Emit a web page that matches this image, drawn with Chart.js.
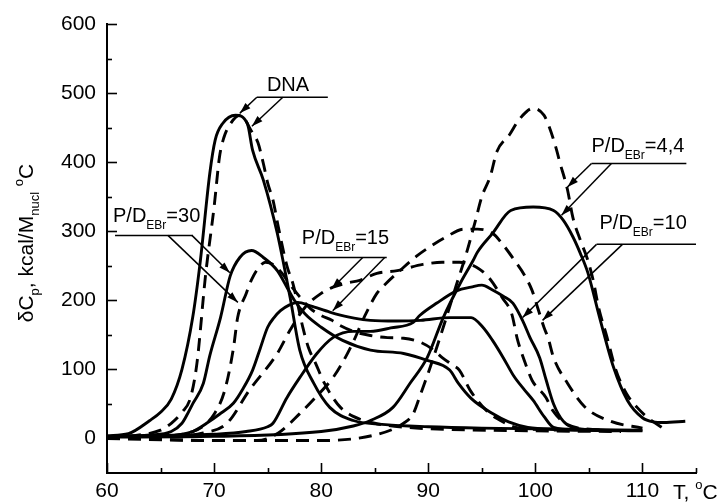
<!DOCTYPE html>
<html>
<head>
<meta charset="utf-8">
<title>Melting curves of DNA–EBr complexes</title>
<script src="https://cdn.jsdelivr.net/npm/chart.js@4.4.1/dist/chart.umd.min.js"></script>
<style>
  html, body { margin: 0; padding: 0; background: #fff; }
  #wrap { width: 723px; height: 504px; }
</style>
</head>
<body>
<div id="wrap"><canvas id="c" width="723" height="504"></canvas></div>
<script>
// Axis ticks
const xTicks = [60, 70, 80, 90, 100, 110];
const yTicks = [0, 100, 200, 300, 400, 500, 600];
const xMinorTicks = [65, 75, 85, 95, 105, 115];
const yMinorTicks = [50, 150, 250, 350, 450, 550];

// Excess heat capacity, kcal/(M nucl · °C), versus temperature T, °C
// Free DNA
const tDnaSolid  = [60, 62, 64, 65, 66, 67, 68, 68.7, 69.6, 70.1, 70.8, 72, 73.1, 73.6, 74.6, 75.9, 77.1, 78, 79.3, 80.8, 83, 86, 90, 95, 100, 105, 110];
const cpDnaSolid = [4, 7, 26, 38, 57, 100, 175, 255, 384, 432, 456, 468, 456, 417, 374, 297, 204, 128, 80, 45, 26, 20, 17, 15, 14, 13, 12];
const tDnaDashed  = [60, 63, 65, 66, 67, 67.8, 68.4, 69.2, 70, 70.5, 70.9, 71.5, 72.4, 73.6, 74.1, 74.6, 75, 75.5, 76, 76.8, 77.4, 78.3, 78.8, 79.5, 80.3, 81.1, 81.8, 83, 85, 88, 92, 100, 108];
const cpDnaDashed = [2, 5, 12, 22, 38, 59, 109, 236, 335, 407, 435, 455, 468, 442, 428, 398, 370, 345, 306, 250, 222, 160, 132, 108, 80, 59, 45, 32, 22, 16, 13, 11, 10];

// P/D = 30
const t30Solid  = [60, 64, 66, 67, 67.5, 68, 69, 69.6, 70.6, 71.5, 72.4, 73.5, 74.6, 75.9, 76.8, 77.5, 78.5, 80, 82, 84.6, 87.7, 89.9, 92, 92.8, 94, 96, 97.5, 99.3, 102, 106];
const cp30Solid = [3, 5, 10, 22, 35, 50, 80, 120, 175, 235, 262, 272, 262, 243, 219, 200, 180, 161, 142, 128, 123, 113, 99, 80, 58, 36, 24, 16, 13, 12];
const t30Dashed  = [60, 66, 68, 69, 70, 71, 71.8, 72.2, 73, 73.5, 74.2, 74.8, 75.5, 76.3, 77, 78, 79, 80, 81, 81.7, 83, 84.6, 86.2, 87.7, 89.3, 90.5, 91.3, 92.3, 92.9, 93.9, 95.4, 96.5, 98.5, 103];
const cp30Dashed = [2, 4, 10, 18, 35, 70, 130, 175, 210, 230, 248, 255, 252, 240, 225, 205, 188, 178, 171, 164, 155, 149, 146, 145, 139, 128, 117, 106, 99, 70, 41, 28, 15, 12];

// P/D = 15
const t15Solid  = [60, 65, 68, 69.3, 70.5, 71.8, 72.7, 73.6, 74.3, 75, 75.6, 76.2, 77, 77.8, 79, 80.8, 82.5, 84.6, 87, 89.3, 92, 94, 95.1, 96, 97, 98, 99, 99.8, 100.8, 101.7, 104, 108];
const cp15Solid = [3, 4, 10, 22, 35, 51, 72, 99, 130, 161, 175, 185, 193, 197, 192, 183, 176, 171, 170, 171, 175, 175, 161, 142, 117, 90, 70, 55, 32, 16, 12, 11];
const t15Dashed  = [60, 66, 69, 71.2, 73.3, 75.9, 77.1, 78.5, 80, 81.1, 82.4, 83.6, 85.2, 87.1, 89.5, 91.3, 92.9, 94.5, 95.7, 96.9, 97.8, 98.3, 99.2, 99.7, 101, 101.6, 103, 106];
const cp15Dashed = [2, 3, 8, 22, 70, 123, 157, 190, 210, 219, 225, 229, 239, 243, 252, 255, 255, 248, 232, 204, 180, 145, 103, 84, 59, 41, 20, 12];

// P/D = 10
const t10Solid  = [60, 65, 70, 73, 75, 75.5, 76.8, 78, 79.6, 81.1, 83, 84.6, 86.5, 88.6, 89.2, 90.8, 92.7, 94, 95, 96, 97, 97.9, 98.8, 99.5, 100.4, 101, 101.7, 102.6, 103.5, 106, 110];
const cp10Solid = [3, 4, 6, 10, 17, 22, 59, 88, 123, 146, 155, 155, 160, 168, 178, 196, 214, 219, 222, 215, 206, 196, 171, 146, 117, 85, 50, 25, 16, 12, 11];
const t10Dashed  = [60, 70, 74, 76, 78, 79.5, 81.1, 82, 83, 84, 85.2, 86.1, 87.5, 89, 90.1, 91.6, 93.3, 94.6, 96, 97, 98, 99, 99.7, 100.2, 100.8, 101.2, 101.7, 103, 104.6, 107, 110];
const cp10Dashed = [2, -3, -3, 8, 36, 60, 88, 110, 140, 175, 210, 225, 245, 265, 277, 291, 303, 303, 297, 280, 259, 236, 214, 190, 161, 145, 117, 80, 46, 25, 15];

// P/D = 4,4
const t44Solid  = [60, 70, 80, 83, 84.6, 86.7, 88.3, 89.9, 91.4, 93, 94.2, 94.6, 96, 97.7, 99.8, 101.7, 102.6, 103.5, 104.2, 104.9, 106, 107.3, 108.6, 110, 111, 112, 114];
const cp44Solid = [2, 3, 10, 18, 26, 45, 80, 117, 175, 225, 258, 270, 297, 330, 335, 330, 316, 292, 268, 240, 175, 103, 55, 30, 24, 23, 25];
const t44Dashed  = [60, 70, 80, 85, 87.7, 88.6, 89.3, 90, 91.4, 92.6, 93.6, 94.4, 95, 95.8, 96.4, 97.6, 98.5, 99.8, 100.8, 101.3, 101.9, 102.3, 103, 103.5, 104.2, 104.9, 105.4, 105.9, 106.7, 107.5, 108.5, 109.5, 110.5, 112];
const cp44Dashed = [0, -3, -3, 5, 22, 36, 65, 95, 161, 221, 270, 315, 350, 380, 415, 440, 462, 478, 468, 451, 422, 399, 360, 320, 287, 258, 229, 190, 146, 100, 65, 45, 30, 14];

const curves = [
  [tDnaSolid, cpDnaSolid, false], [tDnaDashed, cpDnaDashed, true],
  [t30Solid, cp30Solid, false],   [t30Dashed, cp30Dashed, true],
  [t15Solid, cp15Solid, false],   [t15Dashed, cp15Dashed, true],
  [t10Solid, cp10Solid, false],   [t10Dashed, cp10Dashed, true],
  [t44Solid, cp44Solid, false],   [t44Dashed, cp44Dashed, true]
];

// Callout labels: text anchor, underline bar and arrows, all in (T, Cp) units
const callouts = [
  { parts: [['DNA', 20, 0]], at: [74.93, 503],
    bar: [73.99, 80.62, 494], arrows: [[73.99, 494, 72.41, 471], [76.42, 494, 73.53, 452]] },
  { parts: [['P/D', 20, 0], ['EBr', 12, 7], ['=30', 20, 0]], at: [60.56, 313],
    bar: [60.75, 68.02, 294], arrows: [[65.69, 294, 72.22, 197], [67.93, 294, 71.47, 240]] },
  { parts: [['P/D', 20, 0], ['EBr', 12, 7], ['=15', 20, 0]], at: [78.19, 282],
    bar: [78.0, 86.12, 262], arrows: [[83.88, 262, 80.99, 217], [85.93, 262, 81.08, 185]] },
  { parts: [['P/D', 20, 0], ['EBr', 12, 7], ['=4,4', 20, 0]], at: [105.24, 414],
    bar: [105.24, 114.1, 398], arrows: [[105.24, 398, 103.0, 364], [107.1, 398, 102.44, 323]] },
  { parts: [['P/D', 20, 0], ['EBr', 12, 7], ['=10', 20, 0]], at: [105.99, 303],
    bar: [105.71, 115.0, 281], arrows: [[105.71, 281, 98.81, 175], [108.13, 281, 100.67, 171]] }
];

const FONT = "'Liberation Sans', Arial, Helvetica, sans-serif";

function drawParts(ctx, parts, x, y) {
  let cx = x;
  for (const [txt, size, dy] of parts) {
    ctx.font = size + 'px ' + FONT;
    ctx.fillText(txt, cx, y + dy);
    cx += ctx.measureText(txt).width;
  }
  return cx - x;
}
function partsWidth(ctx, parts) {
  let w = 0;
  for (const [txt, size] of parts) { ctx.font = size + 'px ' + FONT; w += ctx.measureText(txt).width; }
  return w;
}
function arrow(ctx, x0, y0, x1, y1) {
  ctx.beginPath(); ctx.moveTo(x0, y0); ctx.lineTo(x1, y1); ctx.stroke();
  const ang = Math.atan2(y1 - y0, x1 - x0), L = 11, W = 3.6;
  ctx.beginPath();
  ctx.moveTo(x1, y1);
  ctx.lineTo(x1 - L * Math.cos(ang) + W * Math.sin(ang), y1 - L * Math.sin(ang) - W * Math.cos(ang));
  ctx.lineTo(x1 - L * Math.cos(ang) - W * Math.sin(ang), y1 - L * Math.sin(ang) + W * Math.cos(ang));
  ctx.closePath(); ctx.fill();
}

const decorations = {
  id: 'decorations',
  afterDraw(chart) {
    const { ctx, chartArea: a } = chart;
    const sx = chart.scales.x, sy = chart.scales.y;
    const px = v => sx.getPixelForValue(v), py = v => sy.getPixelForValue(v);
    ctx.save();
    ctx.strokeStyle = '#000'; ctx.fillStyle = '#000';

    // inward tick marks
    ctx.lineWidth = 1.6;
    const tx = (v, len) => { const p = Math.round(px(v)) + 0.5; ctx.beginPath(); ctx.moveTo(p, a.bottom); ctx.lineTo(p, a.bottom - len); ctx.stroke(); };
    const ty = (v, len) => { const p = Math.round(py(v)) + 0.5; ctx.beginPath(); ctx.moveTo(a.left, p); ctx.lineTo(a.left + len, p); ctx.stroke(); };
    xTicks.forEach(v => tx(v, 10)); xMinorTicks.forEach(v => tx(v, 5));
    yTicks.forEach(v => ty(v, 10)); yMinorTicks.forEach(v => ty(v, 5));

    // callouts
    ctx.lineWidth = 1.5;
    ctx.textBaseline = 'alphabetic'; ctx.textAlign = 'left';
    for (const c of callouts) {
      drawParts(ctx, c.parts, px(c.at[0]), py(c.at[1]));
      const by = py(c.bar[2]);
      ctx.beginPath(); ctx.moveTo(px(c.bar[0]), by); ctx.lineTo(px(c.bar[1]), by); ctx.stroke();
      for (const [x0, y0, x1, y1] of c.arrows) arrow(ctx, px(x0), py(y0), px(x1), py(y1));
    }

    // x-axis title
    drawParts(ctx, [['T, ', 21, 0], ['o', 13, -10], ['C', 21, 0]], a.right - 23, a.bottom + 26);

    // y-axis title (rotated)
    const yParts = [['δC', 21, 0], ['p', 13, 6], [', kcal/M', 21, 0], ['nucl', 13, 6], [' ', 21, 0], ['o', 13, -10], ['C', 21, 0]];
    const w = partsWidth(ctx, yParts);
    ctx.translate(33, 243);
    ctx.rotate(-Math.PI / 2);
    drawParts(ctx, yParts, -w / 2, 0);
    ctx.restore();
  }
};

new Chart(document.getElementById('c'), {
  type: 'line',
  data: {
    datasets: curves.map(([t, cp, dashed]) => ({
      data: t.map((v, i) => ({ x: v, y: cp[i] })),
      borderColor: '#000',
      borderWidth: 2.9,
      borderDash: dashed ? [13, 8] : [],
      pointRadius: 0,
      fill: false,
      cubicInterpolationMode: 'monotone'
    }))
  },
  options: {
    responsive: false,
    devicePixelRatio: 1,
    animation: false,
    events: [],
    layout: { padding: { top: 24, right: 27, bottom: 0, left: 0 } },
    plugins: { legend: { display: false }, tooltip: { enabled: false } },
    scales: {
      x: {
        type: 'linear', min: 60, max: 115,
        afterBuildTicks: s => { s.ticks = xTicks.map(v => ({ value: v })); },
        afterFit: s => { s.height = 31; },
        grid: { display: false, drawTicks: false },
        border: { display: true, color: '#000', width: 2 },
        ticks: { color: '#000', font: { family: FONT, size: 21 }, padding: 6, maxRotation: 0, autoSkip: false }
      },
      y: {
        type: 'linear', min: -50, max: 600,
        afterBuildTicks: s => { s.ticks = yTicks.map(v => ({ value: v })); },
        afterFit: s => { s.width = 107; },
        grid: { display: false, drawTicks: false },
        border: { display: true, color: '#000', width: 2 },
        ticks: { color: '#000', font: { family: FONT, size: 21 }, padding: 11 }
      }
    }
  },
  plugins: [decorations]
});
</script>
</body>
</html>
